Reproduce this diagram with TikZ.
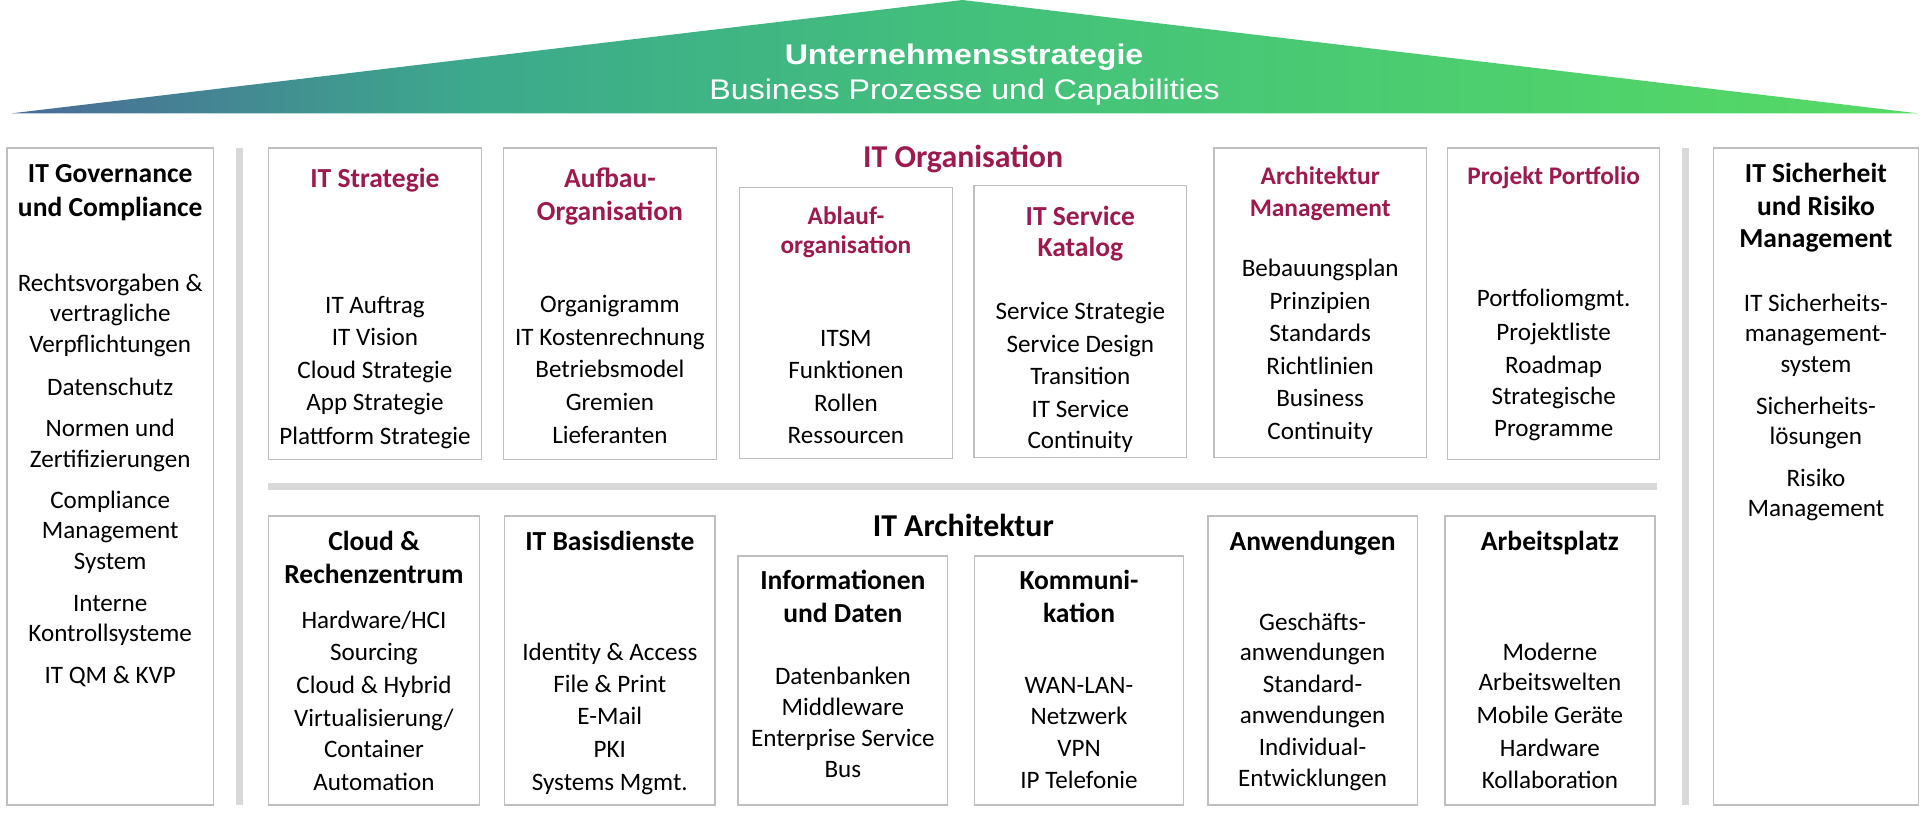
\documentclass[tikz,border=0pt]{standalone}
\usepackage{fontspec}
\setmainfont{Carlito}
\newfontfamily\arialf{Liberation Sans}
\definecolor{itred}{HTML}{9E1A4E}
\definecolor{boxgray}{HTML}{BFBFBF}
\definecolor{bargray}{HTML}{D9D9D9}
\definecolor{gA}{HTML}{4A6A98}
\definecolor{gB}{HTML}{3CA98C}
\definecolor{gC}{HTML}{43C07C}
\definecolor{gD}{HTML}{56DA64}
\pgfdeclarehorizontalshading{roofshade}{100bp}{color(0bp)=(gA); color(25bp)=(gA); color(37bp)=(gB); color(50bp)=(gC); color(75bp)=(gD); color(100bp)=(gD)}
\tikzset{
  boxst/.style={draw=boxgray, line width=1.1pt, fill=white, inner sep=0pt, outer sep=0pt},
  txt/.style={anchor=base, inner sep=0pt, font=\fontsize{20.5}{24}\selectfont},
  ttl/.style={anchor=base, inner sep=0pt, font=\bfseries\fontsize{22.5}{26}\selectfont},
  rttl/.style={ttl, text=itred},
  rsttl/.style={anchor=base, inner sep=0pt, text=itred, font=\bfseries\fontsize{20.7}{24}\selectfont},
  hdr/.style={anchor=base, inner sep=0pt, font=\bfseries\fontsize{26}{30}\selectfont},
  rooftxt/.style={anchor=base, inner sep=0pt, text=white},
}
\newcommand\mybox[5]{\node[boxst, minimum width={(#4)-(#2)}, minimum height={(#5)-(#3)}] (#1) at ({((#2)+(#4))/2},{((#3)+(#5))/2}) {};}
\newcommand\mylines[4]{\foreach \lY/\lT [count=\i] in {#4} {\node[#3] (#1-\i) at (#2,\lY) {\lT};}}
\begin{document}
\begin{tikzpicture}[x=1pt,y=-1pt]
\useasboundingbox (0,0) rectangle (1568,665);
% roof
\path[shading=roofshade] (10,92.5) -- (786,0) -- (1566,92.5) -- cycle;
\node[rooftxt, font=\arialf\bfseries\fontsize{23.2}{28}\selectfont] (roof1) at (787.3,53) {\scalebox{1.13}[1]{Unternehmensstrategie}};
\node[rooftxt, font=\arialf\fontsize{23.2}{28}\selectfont] (roof2) at (787.8,81) {\scalebox{1.13}[1]{Business Prozesse und Capabilities}};
% bars
\fill[bargray] (193,121) rectangle (198.7,657.5);
\fill[bargray] (1374,121) rectangle (1379.5,657.5);
\fill[bargray] (219,394.6) rectangle (1353,399.8);
% boxes
\mybox{gov}{5.8}{121}{174.2}{657.5}
\mybox{strat}{219.4}{121}{393}{375}
\mybox{aufbau}{411}{121}{585.2}{375}
\mybox{ablauf}{603.9}{153}{777.8}{374.3}
\mybox{service}{795.5}{151.6}{969}{373.5}
\mybox{archm}{991.5}{121}{1164.8}{373.5}
\mybox{proj}{1182.3}{121}{1355.3}{375}
\mybox{sich}{1399.4}{121}{1566.5}{657.5}
\mybox{cloud}{219.3}{421.4}{391.5}{657.5}
\mybox{basis}{412}{421.4}{584}{657.5}
\mybox{info}{602.7}{454}{774}{657.4}
\mybox{komm}{795.9}{454}{966.5}{657.4}
\mybox{anw}{986.5}{421.4}{1157.4}{657.4}
\mybox{arb}{1180}{421.4}{1351.5}{657.4}
% headers
\node[hdr, text=itred] (orgh) at (786.5,136.6) {IT Organisation};
\node[hdr] (archh) at (786.7,438.3) {IT Architektur};
% texts
\mylines{govt}{90}{ttl}{149.2/IT Governance,176.4/und Compliance}
\mylines{govb}{90}{txt}{238.2/Rechtsvorgaben \&,262.7/vertragliche,287.7/Verpflichtungen,322.6/Datenschutz,356.6/Normen und,381.7/Zertifizierungen,415.1/Compliance,439.6/Management,465/System,499.5/Interne,524/Kontrollsysteme,558/IT QM \& KVP}
\mylines{stratt}{306.2}{rttl}{153/IT Strategie}
\mylines{stratb}{306.2}{txt}{255.9/IT Auftrag,282.3/IT Vision,309/Cloud Strategie,335.4/App Strategie,362.6/Plattform Strategie}
\mylines{aufbaut}{498.1}{rttl}{153/Aufbau-,179.7/Organisation}
\mylines{aufbaub}{498.1}{txt}{255.4/Organigramm,282.3/IT Kostenrechnung,308.4/Betriebsmodel,334.9/Gremien,362/Lieferanten}
\mylines{ablauft}{690.85}{rsttl}{183/Ablauf-,207.4/organisation}
\mylines{ablaufb}{690.85}{txt}{282.6/ITSM,309/Funktionen,335.7/Rollen,362/Ressourcen}
\mylines{servicet}{882.25}{rttl}{183.8/IT Service,209.6/Katalog}
\mylines{serviceb}{882.25}{txt}{261.3/Service Strategie,287.8/Service Design,314.4/Transition,340.8/IT Service,366/Continuity}
\mylines{archmt}{1078.15}{rsttl}{151/Architektur,176.4/Management}
\mylines{archmb}{1078.15}{txt}{226/Bebauungsplan,253/Prinzipien,279/Standards,306.2/Richtlinien,332/Business,358.8/Continuity}
\mylines{projt}{1268.8}{rsttl}{151/Projekt Portfolio}
\mylines{projb}{1268.8}{txt}{250.4/Portfoliomgmt.,277.7/Projektliste,304.9/Roadmap,330.7/Strategische,356.1/Programme}
\mylines{sicht}{1483}{ttl}{149.2/IT Sicherheit,175.6/und Risiko,202/Management}
\mylines{sichb}{1483}{txt}{254/IT Sicherheits-,279/management-,304/system,338.4/Sicherheits-,363.4/lösungen,397/Risiko,422/Management}
\mylines{cloudt}{305.4}{ttl}{449.2/Cloud \&,476.4/Rechenzentrum}
\mylines{cloudb}{305.4}{txt}{513/{Hardware/HCI},539.5/Sourcing,566.2/Cloud \& Hybrid,593.4/{Virtualisierung/},618.5/Container,645.2/Automation}
\mylines{basist}{498}{ttl}{449.2/IT Basisdienste}
\mylines{basisb}{498}{txt}{539/Identity \& Access,565.7/File \& Print,592/E-Mail,618.5/PKI,645.2/Systems Mgmt.}
\mylines{infot}{688.35}{ttl}{481.8/Informationen,508.5/und Daten}
\mylines{infob}{688.35}{txt}{558.6/Datenbanken,584/Middleware,609.8/Enterprise Service,635/Bus}
\mylines{kommt}{881.2}{ttl}{481.8/Kommuni-,508.5/kation}
\mylines{kommb}{881.2}{txt}{566.2/WAN-LAN-,591.6/Netzwerk,617.4/VPN,643.8/IP Telefonie}
\mylines{anwt}{1071.95}{ttl}{449.2/Anwendungen}
\mylines{anwb}{1071.95}{txt}{514.5/Geschäfts-,539/anwendungen,565.4/Standard-,590.7/anwendungen,617.2/Individual-,642.5/Entwicklungen}
\mylines{arbt}{1265.75}{ttl}{449.2/Arbeitsplatz}
\mylines{arbb}{1265.75}{txt}{539.8/Moderne,564.3/Arbeitswelten,590.7/Mobile Geräte,617.4/Hardware,643.8/Kollaboration}
\end{tikzpicture}
\end{document}
